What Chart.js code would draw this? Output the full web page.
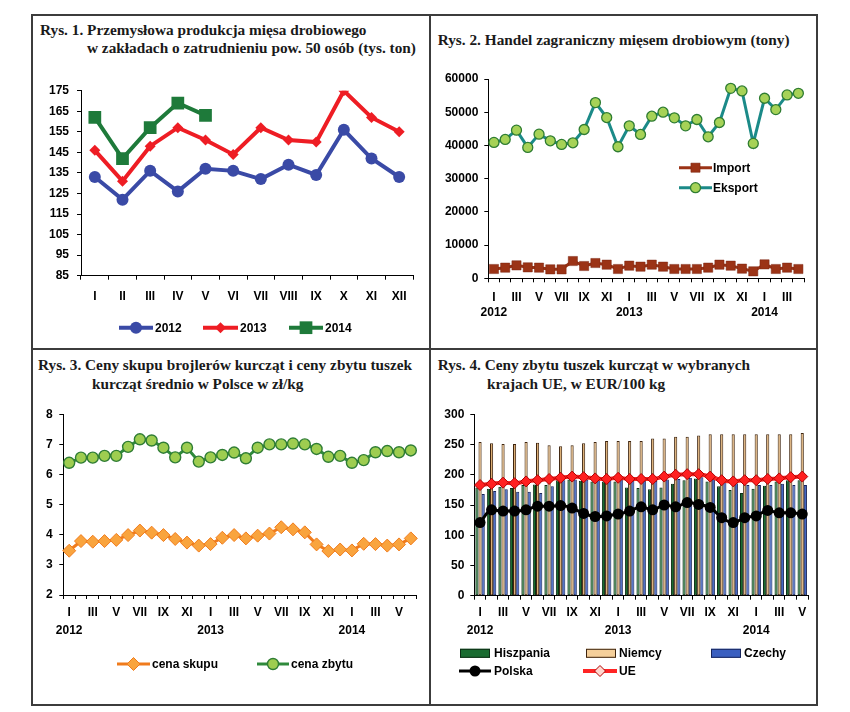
<!DOCTYPE html>
<html><head><meta charset="utf-8">
<script src="https://cdn.jsdelivr.net/npm/chart.js@4.4.1/dist/chart.umd.min.js"></script>
<style>
html,body{margin:0;padding:0;background:#fff;width:850px;height:712px;overflow:hidden;}
canvas{position:absolute;}
.ln{position:absolute;background:#3c3c3c;}
.t{position:absolute;font-family:"Liberation Serif","Times New Roman",serif;font-weight:bold;font-size:15.3px;line-height:18.5px;color:#1a1a1a;white-space:nowrap;}
</style></head><body>
<div class="ln" style="left:31px;top:14px;width:787px;height:2px"></div>
<div class="ln" style="left:31px;top:704px;width:787px;height:2px"></div>
<div class="ln" style="left:31px;top:14px;width:2px;height:692px"></div>
<div class="ln" style="left:816px;top:14px;width:2px;height:692px"></div>
<div class="ln" style="left:429px;top:14px;width:2px;height:692px"></div>
<div class="ln" style="left:31px;top:348px;width:787px;height:2px"></div>

<div class="t" style="left:40px;top:21px">Rys. 1. Przemysłowa produkcja mięsa drobiowego</div>
<div class="t" style="left:87px;top:39.4px">w zakładach o zatrudnieniu pow. 50 osób (tys. ton)</div>
<div class="t" style="left:437.7px;top:30.7px">Rys. 2. Handel zagraniczny mięsem drobiowym (tony)</div>
<div class="t" style="left:38px;top:356.4px">Rys. 3. Ceny skupu brojlerów kurcząt i ceny zbytu tuszek</div>
<div class="t" style="left:92px;top:375px">kurcząt średnio w Polsce w zł/kg</div>
<div class="t" style="left:437.7px;top:356.4px">Rys. 4. Ceny zbytu tuszek kurcząt w wybranych</div>
<div class="t" style="left:487px;top:375px">krajach UE, w EUR/100 kg</div>

<canvas id="c1" width="396" height="332" style="left:33px;top:16px;width:396px;height:332px"></canvas>
<canvas id="c2" width="385" height="332" style="left:431px;top:16px;width:385px;height:332px"></canvas>
<canvas id="c3" width="396" height="354" style="left:33px;top:350px;width:396px;height:354px"></canvas>
<canvas id="c4" width="385" height="354" style="left:431px;top:350px;width:385px;height:354px"></canvas>

<script>
// ---------- data ----------
const months = ['I','II','III','IV','V','VI','VII','VIII','IX','X','XI','XII'];
const years = ['2012','2013','2014'];

// Rys. 1 (tys. ton)
const prod2012 = [133,122,136,126,137,136,132,139,134,156,142,133];
const prod2013 = [146,131,148,157,151,144,157,151,150,175,162,155];
const prod2014 = [162,142,157,169,163];

// Rys. 2 (tony), I 2012 - IV 2014
const importTony = [2800,3200,3900,3300,3200,2700,2700,5200,3700,4600,4100,2800,3800,3500,4100,3500,2800,2800,2800,3200,4100,3800,2900,2100,4200,2800,3200,2800];
const eksportTony = [40900,41800,44600,39400,43400,41400,40300,40800,44800,52900,48400,39600,45900,43300,48800,50000,48300,45900,47800,42600,46900,57200,56400,40600,54200,50800,55200,55700];

// Rys. 3 (zł/kg), I 2012 - VI 2014
const cenaSkupu = [3.47,3.79,3.77,3.79,3.83,3.99,4.14,4.07,3.99,3.86,3.74,3.64,3.69,3.90,3.99,3.88,3.97,4.04,4.25,4.18,4.08,3.68,3.46,3.51,3.48,3.70,3.69,3.64,3.68,3.88];
const cenaZbytu = [6.39,6.56,6.56,6.62,6.62,6.92,7.17,7.13,6.89,6.57,6.89,6.43,6.57,6.65,6.73,6.54,6.89,7.00,7.00,7.03,7.00,6.85,6.59,6.62,6.39,6.48,6.74,6.78,6.74,6.80];

// Rys. 4 (EUR/100 kg), I 2012 - V 2014
const hiszpania = [179,177,180,178,183,184,183,191,192,190,189,189,189,179,178,176,179,185,191,194,189,181,175,170,177,182,189,191,191];
const niemcy = [254,252,251,251,254,253,249,247,249,252,254,256,256,256,256,260,260,263,263,265,267,267,267,267,267,267,267,267,269];
const czechy = [168,173,176,172,172,170,181,191,192,192,192,192,192,191,190,190,192,193,195,196,193,189,186,183,183,183,185,183,183];
const polska = [121,142,140,140,142,148,148,149,145,136,131,132,135,140,147,142,150,147,154,151,146,129,121,129,132,141,137,137,135];
const ue = [183,185,187,186,189,191,193,195,197,196,194,193,195,193,193,193,197,200,201,201,197,191,189,191,191,193,194,196,197];

function monthCats(n){ const a=[]; for(let i=0;i<n;i++) a.push(months[i%12]); return a; }
const cats2 = monthCats(importTony.length);
const cats3 = monthCats(cenaSkupu.length);
const cats4 = monthCats(hiszpania.length);

// ---------- helpers ----------
const FONT = '"Liberation Sans", Arial, sans-serif';
const XH = 50;
function drawMarker(ctx, style, r, x, y, fill, stroke, bw){
  ctx.beginPath();
  if(style==='circle'){ ctx.arc(x,y,r,0,Math.PI*2); }
  else if(style==='rectRot'){ ctx.moveTo(x-r,y); ctx.lineTo(x,y-r); ctx.lineTo(x+r,y); ctx.lineTo(x,y+r); ctx.closePath(); }
  else { const s=r*Math.SQRT1_2; ctx.rect(x-s,y-s,2*s,2*s); }
  ctx.fillStyle=fill; ctx.fill();
  if(bw>0){ ctx.lineWidth=bw; ctx.strokeStyle=stroke; ctx.stroke(); }
}
const customLegend = {
  id:'customLegend',
  afterDraw(chart, args, opts){
    if(!opts.items) return;
    const ctx = chart.ctx;
    ctx.save();
    for(const it of opts.items){
      const ds = chart.data.datasets[it.ds];
      const x0 = it.x - opts.ox, y = it.y - opts.oy;
      if(it.kind==='box'){
        ctx.fillStyle = it.boxFill || ds.backgroundColor;
        ctx.fillRect(x0, y-it.h/2, it.w, it.h);
        ctx.strokeStyle = ds.borderColor; ctx.lineWidth = 1;
        ctx.strokeRect(x0+0.5, y-it.h/2+0.5, it.w-1, it.h-1);
      } else {
        ctx.strokeStyle = ds.borderColor; ctx.lineWidth = ds.borderWidth;
        ctx.beginPath(); ctx.moveTo(x0,y); ctx.lineTo(x0+it.w,y); ctx.stroke();
        drawMarker(ctx, ds.pointStyle, ds.pointRadius, x0+it.w/2, y, it.markerFill || ds.pointBackgroundColor, ds.pointBorderColor, ds.pointBorderWidth);
      }
      ctx.fillStyle = '#000';
      ctx.font = 'bold 12px ' + FONT;
      ctx.textBaseline = 'middle'; ctx.textAlign = 'left';
      ctx.fillText(ds.label, it.textX - opts.ox, y+0.5);
    }
    ctx.restore();
  }
};
Chart.register(customLegend);

function yScale(min,max,step,width,pad){
  return { min:min, max:max,
    ticks:{stepSize:step, padding:pad, color:'#000', font:{family:FONT, weight:'bold', size:12},
      callback:(v)=>String(v)},
    grid:{drawOnChartArea:false, drawTicks:true, tickLength:4, color:'#000', lineWidth:1},
    border:{display:true, color:'#000', width:1},
    afterFit(s){ s.width = width; } };
}
function xScale(cats, pad, lh, cb){
  return { type:'category', offset:true,
    ticks:{autoSkip:false, maxRotation:0, minRotation:0, padding:pad, color:'#000',
      font:{family:FONT, weight:'bold', size:12, lineHeight:lh},
      callback: cb },
    grid:{offset:true, drawOnChartArea:false, drawTicks:true, tickLength:4, color:'#000', lineWidth:1},
    border:{display:true, color:'#000', width:1},
    afterFit(s){ s.height = XH; } };
}
function everyOther(cats){
  return function(v, i){ if(i%2) return ''; return (i%12===0) ? [cats[i], years[i/12]] : cats[i]; };
}
// chart area helper: canvas box and desired chart area in page coords
function pad(cx,cy,cw,ch,L,T,R,B,wY){
  return {left:L-cx-wY, top:T-cy, right:cx+cw-R, bottom:cy+ch-B-XH};
}
function baseOpts(padding, legendItems, ox, oy){
  return { responsive:false, animation:false, devicePixelRatio:1,
    layout:{padding:padding},
    plugins:{legend:{display:false}, tooltip:{enabled:false}, title:{display:false},
      customLegend:{items:legendItems, ox:ox, oy:oy}} };
}

// ---------- Rys. 1 ----------
(function(){
  const o = baseOpts(pad(33,16,396,332, 81,90.7,413,275.7, 40), [
    {ds:0, x:119, y:327.7, w:34, textX:155},
    {ds:1, x:203, y:327.7, w:35, textX:240},
    {ds:2, x:289, y:327.7, w:34, textX:325}], 33, 16);
  o.scales = { x: xScale(months, 9.8, 1.2, (v,i)=>months[i]), y: yScale(85,175,10,40,8) };
  new Chart(document.getElementById('c1'), {
    type:'line',
    data:{ labels: months, datasets:[
      {label:'2012', data:prod2012, borderColor:'#3a4aa6', borderWidth:4, pointStyle:'circle', pointRadius:6,
       pointBackgroundColor:'#3a4aa6', pointBorderColor:'#3a4aa6', pointBorderWidth:0, tension:0},
      {label:'2013', data:prod2013, borderColor:'#ee1d24', borderWidth:4, pointStyle:'rectRot', pointRadius:5.5,
       pointBackgroundColor:'#ee1d24', pointBorderColor:'#ee1d24', pointBorderWidth:0, tension:0},
      {label:'2014', data:prod2014, borderColor:'#1e7a3a', borderWidth:4, pointStyle:'rect', pointRadius:9,
       pointBackgroundColor:'#1e7a3a', pointBorderColor:'#1e7a3a', pointBorderWidth:0, tension:0}
    ]},
    options:o
  });
})();

// ---------- Rys. 2 ----------
(function(){
  const o = baseOpts(pad(431,16,385,332, 488.3,79,804,278.3, 52), [
    {ds:0, x:679, y:167.7, w:33, textX:713},
    {ds:1, x:679, y:187.7, w:33, textX:713}], 431, 16);
  o.scales = { x: xScale(cats2, 7.7, 1.275, everyOther(cats2)), y: yScale(0,60000,10000,52,6) };
  new Chart(document.getElementById('c2'), {
    type:'line',
    data:{ labels: cats2, datasets:[
      {label:'Import', data:importTony, borderColor:'#9b3316', borderWidth:3, pointStyle:'rect', pointRadius:6.5,
       pointBackgroundColor:'#9b3316', pointBorderColor:'#7a2410', pointBorderWidth:0.5, tension:0},
      {label:'Eksport', data:eksportTony, borderColor:'#1b8a88', borderWidth:3, pointStyle:'circle', pointRadius:5,
       pointBackgroundColor:'#a6d257', pointBorderColor:'#2f7d32', pointBorderWidth:1.3, tension:0}
    ]},
    options:o
  });
})();

// ---------- Rys. 3 ----------
(function(){
  const o = baseOpts(pad(33,350,396,354, 63.3,414.3,416.7,595, 25), [
    {ds:0, x:117, y:664, w:33, textX:152},
    {ds:1, x:257, y:664, w:32, textX:291}], 33, 350);
  o.scales = { x: xScale(cats3, 5, 1.5, everyOther(cats3)), y: yScale(2,8,1,25,6.6) };
  new Chart(document.getElementById('c3'), {
    type:'line',
    data:{ labels: cats3, datasets:[
      {label:'cena skupu', data:cenaSkupu, borderColor:'#f07b1c', borderWidth:3, pointStyle:'rectRot', pointRadius:6.5,
       pointBackgroundColor:'#f9a43e', pointBorderColor:'#f07b1c', pointBorderWidth:1, tension:0},
      {label:'cena zbytu', data:cenaZbytu, borderColor:'#2f8a3c', borderWidth:3, pointStyle:'circle', pointRadius:5.5,
       pointBackgroundColor:'#9ecd50', pointBorderColor:'#2f7d35', pointBorderWidth:1.4, tension:0}
    ]},
    options:o
  });
})();

// ---------- Rys. 4 ----------
(function(){
  const o = baseOpts(pad(431,350,385,354, 474.3,414.3,808,595.7, 40), [
    {ds:0, kind:'box', x:460, y:653.3, w:30, h:9, textX:494},
    {ds:1, kind:'box', x:586, y:653.3, w:30, h:9, textX:619, boxFill:'#f5cf9a'},
    {ds:2, kind:'box', x:711, y:653.3, w:30, h:9, textX:744},
    {ds:3, x:459, y:671, w:32, textX:494},
    {ds:4, x:583, y:671, w:34, textX:619, markerFill:'#ffd8d0'}], 431, 350);
  o.scales = { x: xScale(cats4, 4.3, 1.5, everyOther(cats4)), y: yScale(0,300,50,40,6) };
  const bar = {type:'bar', barPercentage:1, categoryPercentage:0.82, borderWidth:1, borderSkipped:false, order:2};
  new Chart(document.getElementById('c4'), {
    type:'bar',
    data:{ labels: cats4, datasets:[
      Object.assign({label:'Hiszpania', data:hiszpania, backgroundColor:'#196b30', borderColor:'#0c2e15'}, bar),
      Object.assign({label:'Niemcy', data:niemcy, backgroundColor:'#dcae74', borderColor:'#3e240e'}, bar),
      Object.assign({label:'Czechy', data:czechy, backgroundColor:'#3a5fc0', borderColor:'#17255c'}, bar),
      {type:'line', label:'Polska', data:polska, borderColor:'#000', borderWidth:3, pointStyle:'circle', pointRadius:5.5,
       pointBackgroundColor:'#000', pointBorderColor:'#000', pointBorderWidth:0, cubicInterpolationMode:'monotone', order:1},
      {type:'line', label:'UE', data:ue, borderColor:'#ff2424', borderWidth:4, pointStyle:'rectRot', pointRadius:5.5,
       pointBackgroundColor:'#ff2020', pointBorderColor:'#b00000', pointBorderWidth:1, cubicInterpolationMode:'monotone', order:0}
    ]},
    options:o
  });
})();
</script>
</body></html>
